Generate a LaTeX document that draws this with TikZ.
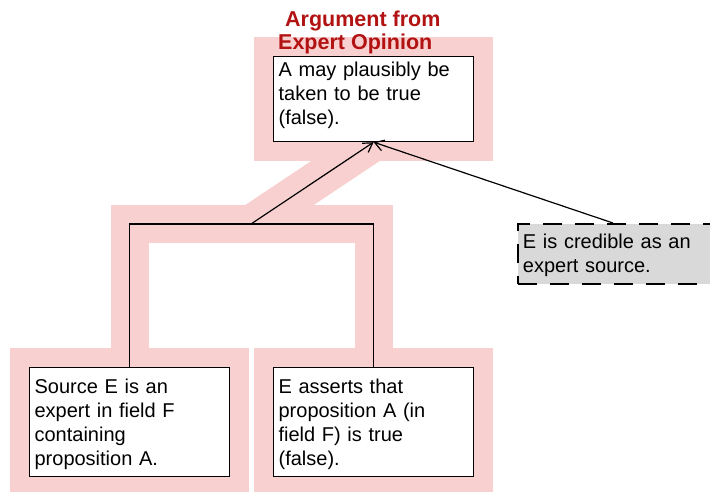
\documentclass[tikz,border=0pt]{standalone}
\usepackage{fontspec}
\setmainfont{Liberation Sans}
\usetikzlibrary{arrows.meta,backgrounds}
\definecolor{hl}{RGB}{249,208,208}
\definecolor{ttl}{RGB}{178,18,18}
\definecolor{gbox}{RGB}{217,217,217}
\begin{document}
\begin{tikzpicture}[x=1pt,y=-1pt,
  txtbox/.style={draw=black, line width=1.2pt, fill=white, anchor=north west,
    inner xsep=5pt, inner ysep=0pt, text width=190pt, align=left,
    font=\fontsize{20}{24}\selectfont},
  credbox/.style={txtbox, fill=gbox, line width=1.8pt, dash pattern=on 19pt off 13pt, text width=270pt},
  hlpath/.style={draw=hl, line width=38pt, line join=miter},
  link/.style={draw=black, line width=1.2pt},
  arr/.style={link, -{Straight Barb[length=9pt,width=11pt]}},
  ttlfont/.style={font=\bfseries\fontsize{21.5}{24}\selectfont, text=ttl, inner sep=0pt, anchor=base west}]
\clip (0,0) rectangle (710,492);
\node[txtbox, text height=20pt, text depth=65pt] (top) at (273,56)
  {A may plausibly be\\ taken to be true\\ (false).};
\node[txtbox, text height=26pt, text depth=83pt] (b1) at (29,367)
  {Source E is an\\ expert in field F\\ containing\\ proposition A.};
\node[txtbox, text height=26pt, text depth=83pt] (b2) at (273,367)
  {E asserts that\\ proposition A (in\\ field F) is true\\ (false).};
\node[credbox, text height=25pt, text depth=35pt] (cred) at (517,223)
  {E is credible as an\\ expert source.};
\node[ttlfont] (title1) at (285,27) {Argument from};
\node[ttlfont] (title2) at (278,50) {Expert Opinion};
\coordinate (j) at (251,224);
\coordinate (ct) at (613,223);
\begin{pgfonlayer}{background}
  \clip (0,0) rectangle (710,492);
  \draw[hlpath] (top.north west) rectangle (top.south east);
  \draw[hlpath] (j) -- (top.south);
  \draw[hlpath] (b1.north) |- (j) -| (b2.north);
  \draw[hlpath] (b1.north west) rectangle (b1.south east);
  \draw[hlpath] (b2.north west) rectangle (b2.south east);
\end{pgfonlayer}
\draw[link] (b1.north) |- (j) -| (b2.north);
\draw[arr] (j) -- (top.south);
\draw[arr] (ct) -- (top.south);
\end{tikzpicture}
\end{document}
